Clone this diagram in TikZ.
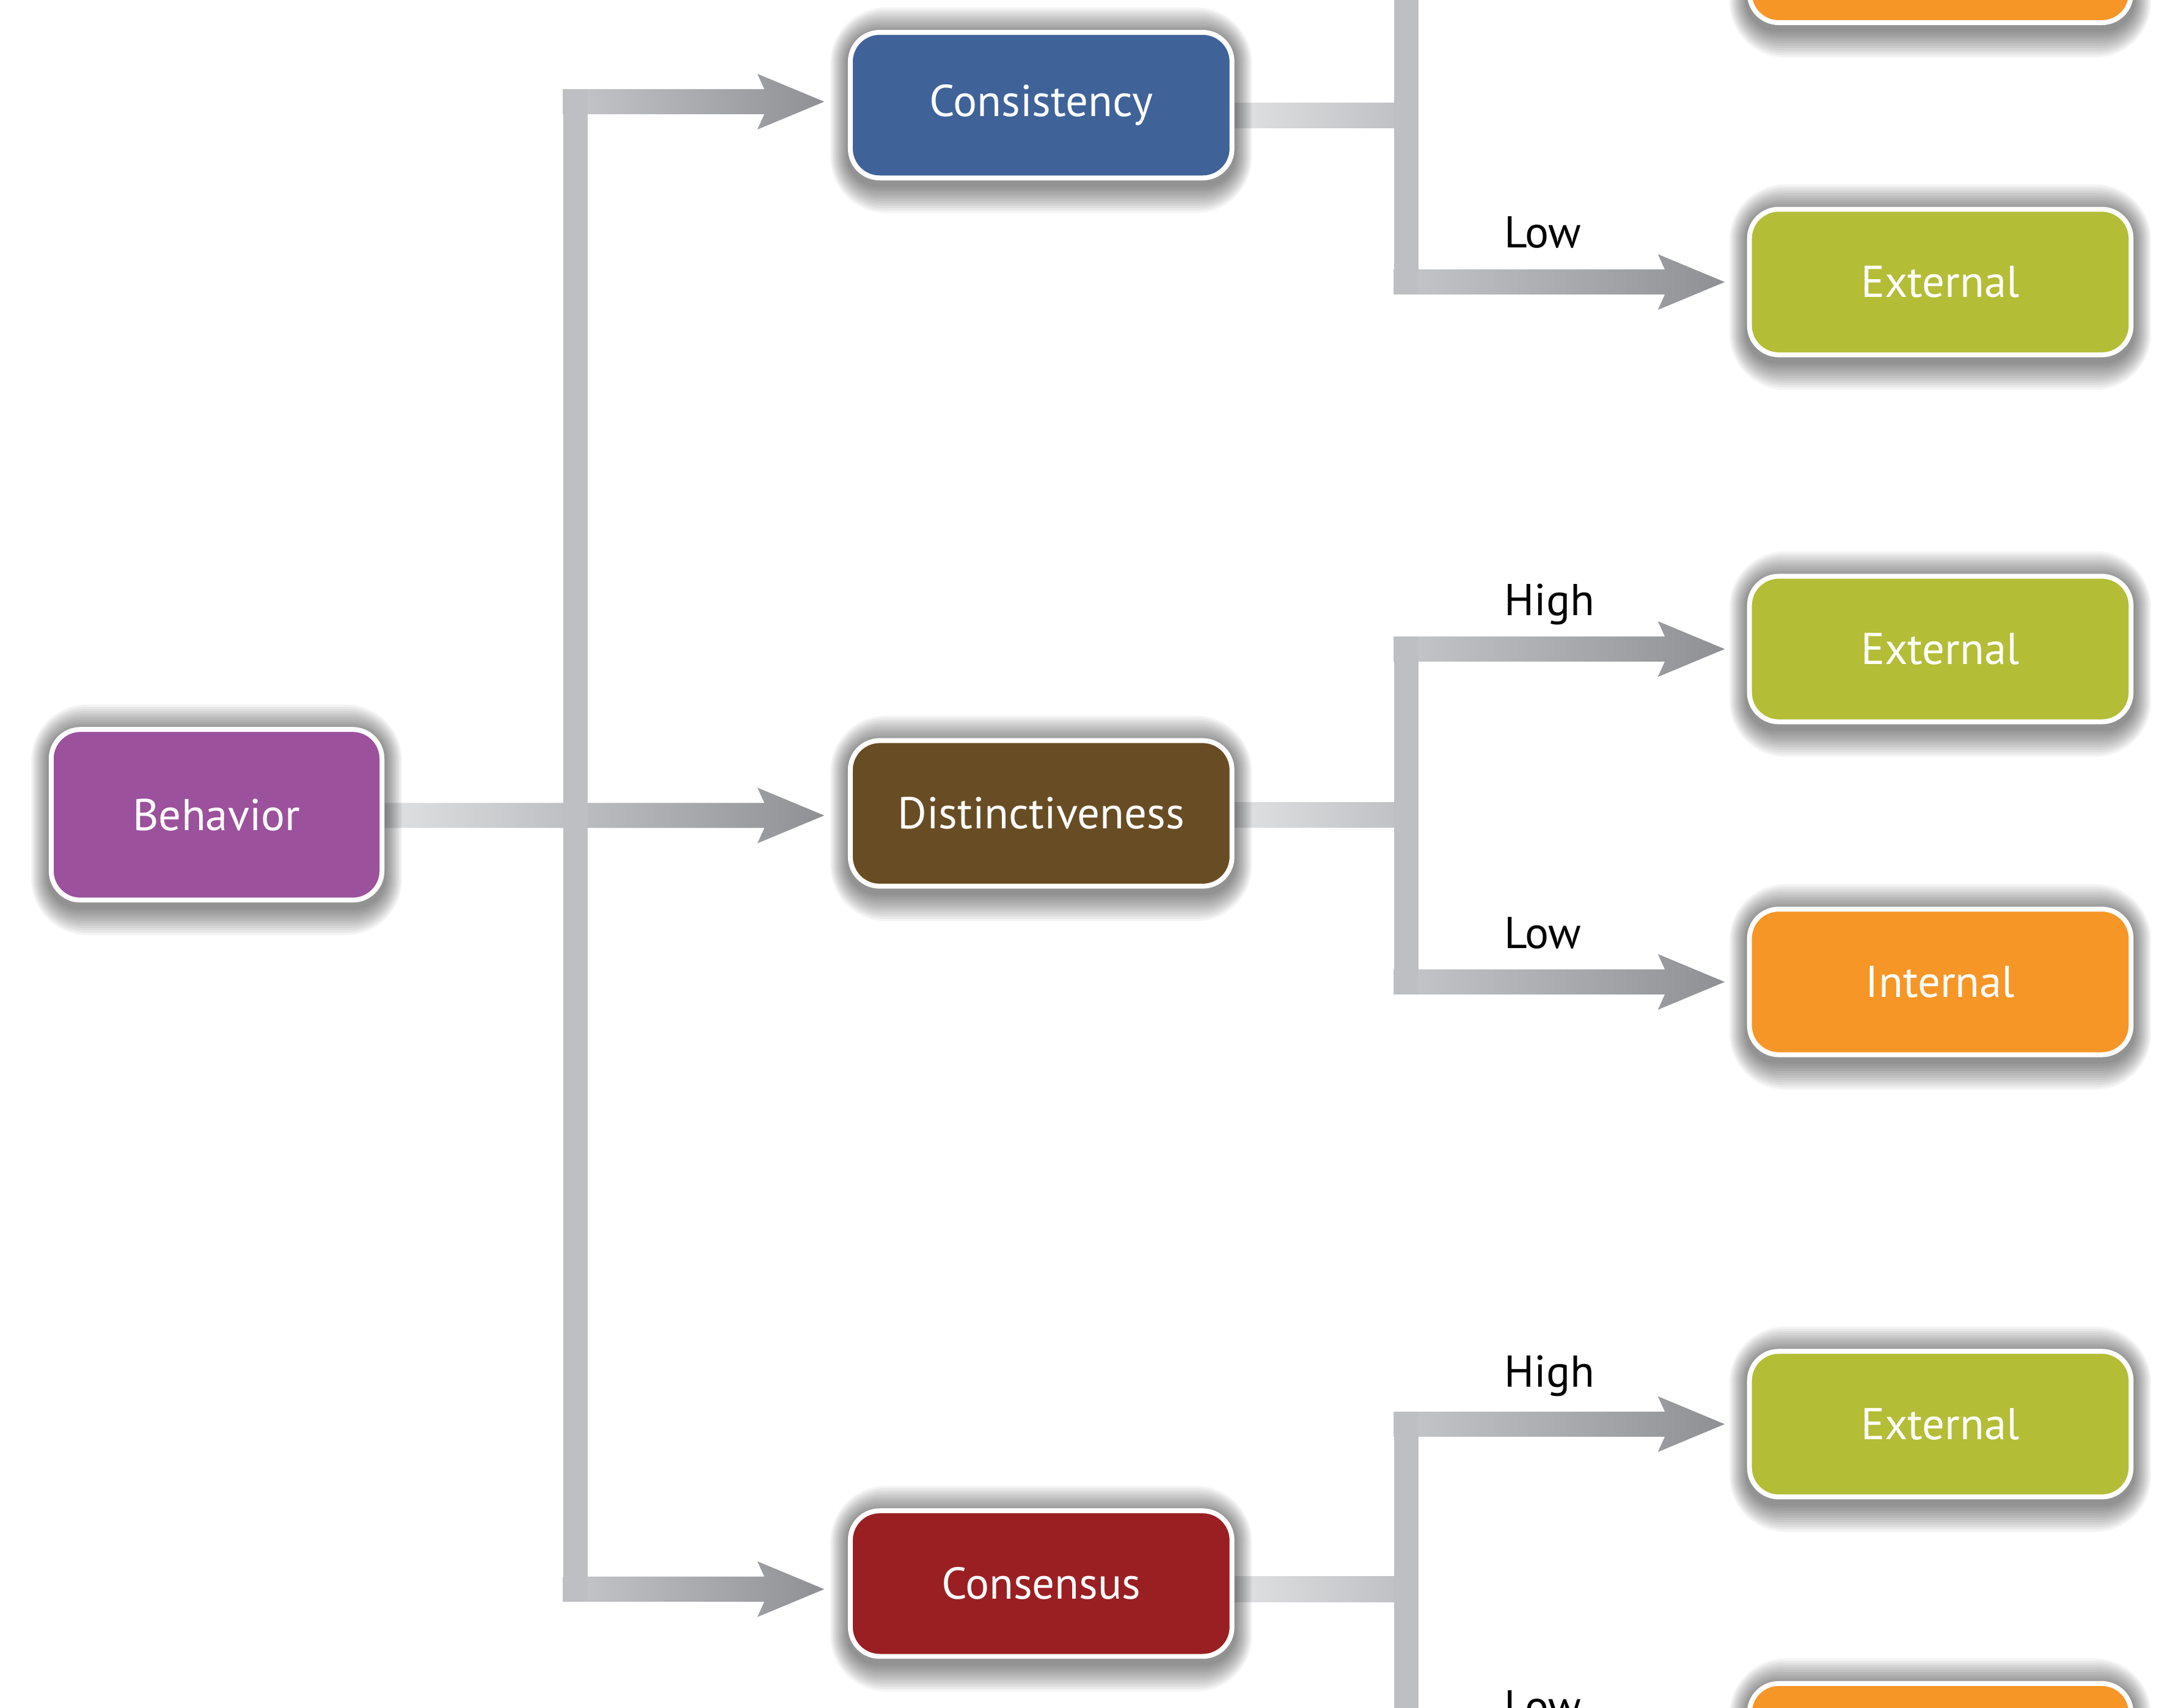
\documentclass[tikz,border=0pt]{standalone}
\usepackage{fontspec}
\newfontfamily\diagfont{PT Sans}
\usetikzlibrary{calc}
\pgfdeclarelayer{bg}
\pgfdeclarelayer{bars}
\pgfdeclarelayer{shadow}
\pgfsetlayers{bg,bars,shadow,main}
\definecolor{cbeh}{HTML}{9B519B}
\definecolor{ccons}{HTML}{3F6299}
\definecolor{cdist}{HTML}{684D24}
\definecolor{cconss}{HTML}{9A1F23}
\definecolor{cext}{HTML}{B3BD36}
\definecolor{cint}{HTML}{F69627}
\definecolor{barlight}{HTML}{E0E1E3}
\definecolor{trunkc}{HTML}{BEBFC2}
\definecolor{barstart}{HTML}{C6C7CA}
\definecolor{bardark}{HTML}{8E9094}
% horizontal shaded arrow: #1 start point (x used), #2 tip point, #3 left colour, #4 right colour
\newcommand\myarrow[4]{%
  \shade[left color=#3, right color=#4] let \p1=#1, \p2=#2 in
    (\x1,\y2+9pt) -- (\x2-43pt,\y2+9pt) -- (\x2-48pt,\y2+20pt) -- (\x2,\y2)
    -- (\x2-48pt,\y2-20pt) -- (\x2-43pt,\y2-9pt) -- (\x1,\y2-9pt) -- cycle;}
% soft shadow around a box node
\newcommand\boxshadow[1]{%
  \begin{pgfonlayer}{shadow}
    \foreach \k in {1,...,12}{
      \fill[black, opacity=0.042, rounded corners=21pt+\k*1.6pt]
        ([shift={(-\k*1.05pt,-\k*1.7pt-3pt)}]#1.south west) rectangle
        ([shift={(\k*1.05pt,\k*1.6pt-3pt)}]#1.north east);}
  \end{pgfonlayer}}
\begin{document}
\begin{tikzpicture}[x=1pt,y=-1pt,
  box/.style={rectangle, rounded corners=21pt, draw=white, line width=3.5pt,
    text=white, font=\diagfont\fontsize{32}{38}\selectfont, inner sep=0pt,
    minimum width=274pt, minimum height=104.5pt},
  lbl/.style={font=\diagfont\fontsize{32}{38}\selectfont, text=black,
    inner sep=0pt, anchor=base west},
  trunk/.style={fill=trunkc}]
\useasboundingbox (0,0) rectangle (1568,1226);
\begin{pgfonlayer}{bg}
  \fill[white] (0,0) rectangle (1568,1226);
\end{pgfonlayer}

% nodes
\node[box, fill=cbeh, minimum width=237.5pt, minimum height=122.5pt] (beh) at (155.5,585) {Behavior};
\node[box, fill=ccons] (cons) at (747.5,75.5) {Consistency};
\node[box, fill=cdist] (dist) at (747.5,584) {Distinctiveness};
\node[box, fill=cconss] (conss) at (747.5,1137) {Consensus};
\node[box, fill=cint] (int0) at (1393,-36) {};
\node[box, fill=cext] (ext1) at (1393,202.5) {External};
\node[box, fill=cext] (ext2) at (1393,466) {External};
\node[box, fill=cint] (int2) at (1393,705) {Internal};
\node[box, fill=cext] (ext3) at (1393,1022.5) {External};
\node[box, fill=cint] (int3) at (1393,1261) {};

\foreach \n in {beh,cons,dist,conss,int0,ext1,ext2,int2,ext3,int3}{\boxshadow{\n}}

% labels
\node[lbl] (lowA) at (1080,178) {Low};
\node[lbl] (highB) at (1080,442) {High};
\node[lbl] (lowB) at (1080,681) {Low};
\node[lbl] (highC) at (1080,996) {High};
\node[lbl] (lowC) at (1080,1236) {Low};

% junctions and arrow tips
\coordinate (jA) at (413,585);
\coordinate (jB1) at (1009.5,83);
\coordinate (jB2) at (1009.5,585);
\coordinate (jB3) at (1009.5,1141);
\coordinate (tCons) at ($(cons.west)+(-17pt,2.5pt)$);
\coordinate (tDist) at ($(dist.west)+(-17pt,-1.5pt)$);
\coordinate (tConss) at ($(conss.west)+(-17pt,-4pt)$);

\begin{pgfonlayer}{bars}
  % left tree
  \myarrow{(beh.east)}{(tDist)}{barlight}{bardark}
  \myarrow{($(jA)+(-8.75pt,0pt)$)}{(tCons)}{barstart}{bardark}
  \myarrow{($(jA)+(-8.75pt,0pt)$)}{(tConss)}{barstart}{bardark}
  \fill[trunk] let \p1=(jA), \p2=(tCons), \p3=(tConss) in
    (\x1-8.75pt,\y2+9pt) rectangle (\x1+8.75pt,\y3-9pt);

  % consistency branch
  \shade[left color=barlight, right color=trunkc] let \p1=(cons.east), \p2=(jB1) in
    (\x1,\y2+9pt) rectangle (\x2,\y2-9pt);
  \myarrow{($(jB1)+(-8.75pt,0pt)$)}{($(int0.west)+(-16pt,0pt)$)}{barstart}{bardark}
  \myarrow{($(jB1)+(-8.75pt,0pt)$)}{($(ext1.west)+(-16pt,0pt)$)}{barstart}{bardark}
  \fill[trunk] let \p1=(jB1), \p2=(int0.west), \p3=(ext1.west) in
    (\x1-8.75pt,\y2+9pt) rectangle (\x1+8.75pt,\y3-9pt);

  % distinctiveness branch
  \shade[left color=barlight, right color=trunkc] let \p1=(dist.east), \p2=(jB2) in
    (\x1,\y2+9pt) rectangle (\x2,\y2-9pt);
  \myarrow{($(jB2)+(-8.75pt,0pt)$)}{($(ext2.west)+(-16pt,0pt)$)}{barstart}{bardark}
  \myarrow{($(jB2)+(-8.75pt,0pt)$)}{($(int2.west)+(-16pt,0pt)$)}{barstart}{bardark}
  \fill[trunk] let \p1=(jB2), \p2=(ext2.west), \p3=(int2.west) in
    (\x1-8.75pt,\y2+9pt) rectangle (\x1+8.75pt,\y3-9pt);

  % consensus branch
  \shade[left color=barlight, right color=trunkc] let \p1=(conss.east), \p2=(jB3) in
    (\x1,\y2+9pt) rectangle (\x2,\y2-9pt);
  \myarrow{($(jB3)+(-8.75pt,0pt)$)}{($(ext3.west)+(-16pt,0pt)$)}{barstart}{bardark}
  \myarrow{($(jB3)+(-8.75pt,0pt)$)}{($(int3.west)+(-16pt,0pt)$)}{barstart}{bardark}
  \fill[trunk] let \p1=(jB3), \p2=(ext3.west), \p3=(int3.west) in
    (\x1-8.75pt,\y2+9pt) rectangle (\x1+8.75pt,\y3-9pt);
\end{pgfonlayer}
\end{tikzpicture}
\end{document}
